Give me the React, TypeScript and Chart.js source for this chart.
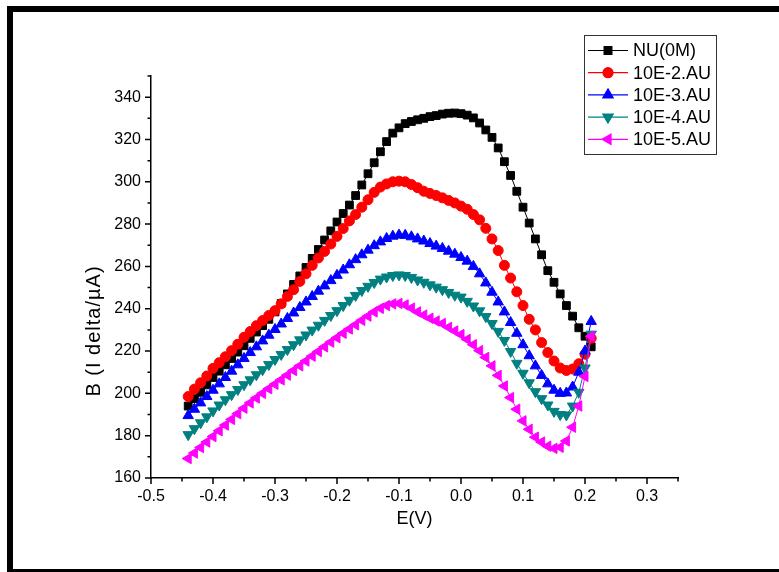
import React, { useEffect, useRef } from 'react';
import { Chart, registerables } from 'chart.js';
import { drawPoint } from 'chart.js/helpers';

Chart.register(...registerables);

const X_VALUES = [
  -0.44, -0.43, -0.42, -0.41, -0.40, -0.39, -0.38, -0.37, -0.36, -0.35,
  -0.34, -0.33, -0.32, -0.31, -0.30, -0.29, -0.28, -0.27, -0.26, -0.25,
  -0.24, -0.23, -0.22, -0.21, -0.20, -0.19, -0.18, -0.17, -0.16, -0.15,
  -0.14, -0.13, -0.12, -0.11, -0.10, -0.09, -0.08, -0.07, -0.06, -0.05,
  -0.04, -0.03, -0.02, -0.01, 0.00, 0.01, 0.02, 0.03, 0.04, 0.05,
  0.06, 0.07, 0.08, 0.09, 0.10, 0.11, 0.12, 0.13, 0.14, 0.15,
  0.16, 0.17, 0.18, 0.19, 0.20, 0.21,
];

const SERIES_NAMES = ['NU(0M)', '10E-2.AU', '10E-3.AU', '10E-4.AU', '10E-5.AU'];

const NU_0M = [
  194, 197.5, 200.5, 204, 207.5, 210.5, 213.5, 216.5, 219.5, 222.5,
  226, 229, 232, 235, 238.5, 242.5, 247, 251.5, 255.5, 259.5,
  263.8, 268, 272.5, 276.8, 281, 285, 289, 293.5, 298.5, 303.8,
  309, 314.2, 319, 323, 325.5, 327.5, 328.5, 329.3, 330, 330.8,
  331.3, 332, 332.4, 332.5, 332.2, 331.5, 330.2, 327.8, 324.5, 321,
  316, 309.5, 303, 295.5, 288, 280.5, 273, 265.5, 258, 252.5,
  247, 241.5, 236.5, 231, 227, 222,
];

const AU_10E2 = [
  198.5, 202, 205, 208.2, 211.8, 214.5, 217.3, 220.2, 223.2, 226.5,
  229.2, 232, 234.4, 236.8, 239.1, 242.3, 245.8, 249, 252.9, 256.5,
  260.5, 264, 267.1, 270.6, 274.2, 277.9, 281.5, 284.5, 288, 291.5,
  295, 297.5, 299, 300, 300.3, 300, 298.7, 297.2, 295.5, 294.5,
  293.5, 292.4, 291.2, 290, 288.5, 287, 284.5, 282, 278, 273,
  267.5, 260.5, 254.5, 248, 241.5, 235, 230, 224, 219.3, 215.3,
  212, 210.8, 211.5, 214, 218.5, 226,
];

const AU_10E3 = [
  189.5, 192.5, 195.5, 198.5, 201.5, 204.5, 207.5, 210.5, 213.5, 216.5,
  219.3, 222, 224.8, 227.5, 230.2, 232.8, 235.4, 238, 240.6, 243.2,
  245.8, 248.3, 250.8, 253.3, 255.8, 258.3, 260.8, 263.2, 265.5, 267.7,
  269.8, 271.6, 273.2, 274.3, 274.8, 274.7, 274, 273, 272, 270.8,
  269.6, 268.5, 267.2, 265.8, 264.2, 262.5, 260, 256.5, 252.2, 247.8,
  243.2, 238.5, 233.5, 228.4, 223, 217.8, 213, 208.5, 204.5, 201.5,
  200, 200.2, 203, 210, 220, 234,
];

const AU_10E4 = [
  180.5, 183.3, 186.1, 188.9, 191.7, 194.5, 197, 199.4, 201.8, 204.1,
  206.4, 208.8, 211.2, 213.6, 216, 218.4, 220.7, 223, 225.3, 227.6,
  229.9, 232.2, 234.5, 236.8, 239.1, 241.5, 244, 246.3, 248.6, 250.6,
  252.4, 254, 255, 255.7, 256, 255.7, 254.8, 253.6, 252.5, 251.3,
  250.2, 249, 247.7, 246.4, 245.5, 243.5, 241.3, 239, 236.3, 233,
  229.3, 225, 219.8, 214.2, 209.5, 205, 200.8, 197.5, 194.5, 191.5,
  190, 189.8, 194, 200.5, 212, 228,
];

const AU_10E5 = [
  169.2, 171.8, 174.4, 177, 179.6, 182.3, 185, 187.7, 190.4, 193,
  195.5, 197.8, 200, 202.2, 204.3, 206.4, 208.6, 210.8, 213, 215.3,
  217.6, 219.8, 222, 224.2, 226.3, 228.4, 230.4, 232.4, 234.5, 236.5,
  238.5, 240.2, 241.5, 242.3, 242.5, 241.8, 240.3, 238.5, 237, 235.5,
  234.2, 233, 231.2, 229.5, 227.8, 225.5, 223, 220.2, 217, 213,
  208.5, 203.5, 198, 192.5, 187, 183, 179.3, 177, 175, 174,
  174.5, 177.5, 184, 194, 208, 227,
];

const X_MAJOR_TICKS = [-0.5, -0.4, -0.3, -0.2, -0.1, 0, 0.1, 0.2, 0.3];
const X_MINOR_TICKS = [-0.45, -0.35, -0.25, -0.15, -0.05, 0.05, 0.15, 0.25, 0.35];
const Y_MAJOR_TICKS = [160, 180, 200, 220, 240, 260, 280, 300, 320, 340];
const Y_MINOR_TICKS = [170, 190, 210, 230, 250, 270, 290, 310, 330, 350];

const X_TITLE = 'E(V)';
const Y_TITLE = 'B (I delta/µA)';

const SERIES_VALUES = [NU_0M, AU_10E2, AU_10E3, AU_10E4, AU_10E5];
const COLORS = ['#000000', '#ff0000', '#0000ff', '#008080', '#ff00ff'];
const POINT_STYLES = ['rect', 'circle', 'triangle', 'triangle', 'triangle'];
const ROTATIONS = [0, 0, 0, 180, 270];
const RADII = [5.5, 5, 6, 6, 6];

const FONT = '"Liberation Sans", Arial, sans-serif';

const W = 779;
const H = 572;

const decorPlugin = {
  id: 'decor',
  beforeDraw(chart: any) {
    const ctx = chart.ctx;
    ctx.save();
    ctx.fillStyle = '#ffffff';
    ctx.fillRect(0, 0, chart.width, chart.height);
    ctx.restore();
  },
  afterDraw(chart: any) {
    const ctx = chart.ctx;
    const xs = chart.scales.x;
    const ys = chart.scales.y;
    const area = chart.chartArea;
    ctx.save();
    // ticks
    ctx.strokeStyle = '#000';
    ctx.lineWidth = 1.5;
    ctx.beginPath();
    X_MAJOR_TICKS.forEach((v) => {
      const p = xs.getPixelForValue(v);
      ctx.moveTo(p, area.bottom);
      ctx.lineTo(p, area.bottom + 6);
    });
    X_MINOR_TICKS.forEach((v) => {
      const p = xs.getPixelForValue(v);
      ctx.moveTo(p, area.bottom);
      ctx.lineTo(p, area.bottom + 3.5);
    });
    Y_MAJOR_TICKS.forEach((v) => {
      const p = ys.getPixelForValue(v);
      ctx.moveTo(area.left, p);
      ctx.lineTo(area.left - 6, p);
    });
    Y_MINOR_TICKS.forEach((v) => {
      const p = ys.getPixelForValue(v);
      ctx.moveTo(area.left, p);
      ctx.lineTo(area.left - 3.5, p);
    });
    ctx.stroke();

    // axis titles
    ctx.fillStyle = '#000';
    ctx.font = `18px ${FONT}`;
    ctx.textAlign = 'center';
    ctx.textBaseline = 'middle';
    ctx.fillText(X_TITLE, (area.left + area.right) / 2, 519);
    ctx.save();
    ctx.translate(94, 331);
    ctx.rotate(-Math.PI / 2);
    ctx.font = `20px ${FONT}`;
    try { (ctx as any).letterSpacing = '1px'; } catch (e) { /* ignore */ }
    ctx.fillText(Y_TITLE, 0, 0);
    try { (ctx as any).letterSpacing = '0px'; } catch (e) { /* ignore */ }
    ctx.restore();

    // legend
    const lx = 584.5;
    const ly = 35.5;
    ctx.strokeStyle = '#333';
    ctx.lineWidth = 1;
    ctx.strokeRect(lx, ly, 132, 119);
    SERIES_NAMES.forEach((name, i) => {
      const y = 50.5 + i * 22.2;
      ctx.strokeStyle = COLORS[i];
      ctx.lineWidth = 1.2;
      ctx.beginPath();
      ctx.moveTo(588, y);
      ctx.lineTo(628, y);
      ctx.stroke();
      ctx.fillStyle = COLORS[i];
      drawPoint(ctx, {
        pointStyle: POINT_STYLES[i],
        rotation: ROTATIONS[i],
        radius: RADII[i],
        borderWidth: 1,
      } as any, 608, y);
      ctx.fillStyle = '#000';
      ctx.font = `18px ${FONT}`;
      ctx.textAlign = 'left';
      ctx.textBaseline = 'middle';
      ctx.fillText(name, 633, y + 1);
    });

    // frame
    ctx.fillStyle = '#000';
    ctx.fillRect(7, 6, W - 7, 6);
    ctx.fillRect(7, 6, 6, H - 6);
    ctx.fillRect(7, 569, W - 7, 3);
    ctx.restore();
  },
};

export default function App() {
  const ref = useRef<HTMLCanvasElement | null>(null);

  useEffect(() => {
    document.body.style.margin = '0';
    const canvas = ref.current;
    if (!canvas) return;
    const datasets = SERIES_NAMES.map((name, i) => ({
      label: name,
      data: X_VALUES.map((x, j) => ({ x, y: SERIES_VALUES[i][j] })),
      borderColor: COLORS[i],
      backgroundColor: COLORS[i],
      borderWidth: 1,
      pointStyle: POINT_STYLES[i],
      rotation: ROTATIONS[i],
      pointRadius: RADII[i],
      pointBorderWidth: 1,
      pointBackgroundColor: COLORS[i],
      pointBorderColor: COLORS[i],
      tension: 0,
      fill: false,
      order: SERIES_NAMES.length - 1 - i,
    }));

    const chart = new Chart(canvas, {
      type: 'line',
      data: { datasets },
      options: {
        animation: false,
        responsive: false,
        maintainAspectRatio: false,
        devicePixelRatio: 1,
        layout: { padding: { left: 0, top: 76, right: W - 678, bottom: 0 } },
        plugins: {
          legend: { display: false },
          tooltip: { enabled: false },
        },
        scales: {
          x: {
            type: 'linear',
            min: -0.5,
            max: 0.35,
            grid: { display: false, drawTicks: false },
            border: { display: true, color: '#000', width: 1.5 },
            afterBuildTicks: (scale: any) => {
              scale.ticks = X_MAJOR_TICKS.map((v) => ({ value: v }));
            },
            afterFit: (scale: any) => {
              scale.height = H - 478;
            },
            ticks: {
              color: '#000',
              font: { family: FONT, size: 16 },
              padding: 9,
              maxRotation: 0,
              autoSkip: false,
              callback: (v: any) => Number(v).toFixed(1),
            },
          },
          y: {
            type: 'linear',
            min: 160,
            max: 350,
            grid: { display: false, drawTicks: false },
            border: { display: true, color: '#000', width: 1.5 },
            afterBuildTicks: (scale: any) => {
              scale.ticks = Y_MAJOR_TICKS.map((v) => ({ value: v }));
            },
            afterFit: (scale: any) => {
              scale.width = 151;
            },
            ticks: {
              color: '#000',
              font: { family: FONT, size: 16 },
              padding: 10,
              autoSkip: false,
              callback: (v: any) => String(v),
            },
          },
        },
      },
      plugins: [decorPlugin],
    });
    return () => chart.destroy();
  }, []);

  return (
    <div style={{ width: W, height: H }}>
      <canvas ref={ref} width={W} height={H} style={{ display: 'block', width: W, height: H }} />
    </div>
  );
}
